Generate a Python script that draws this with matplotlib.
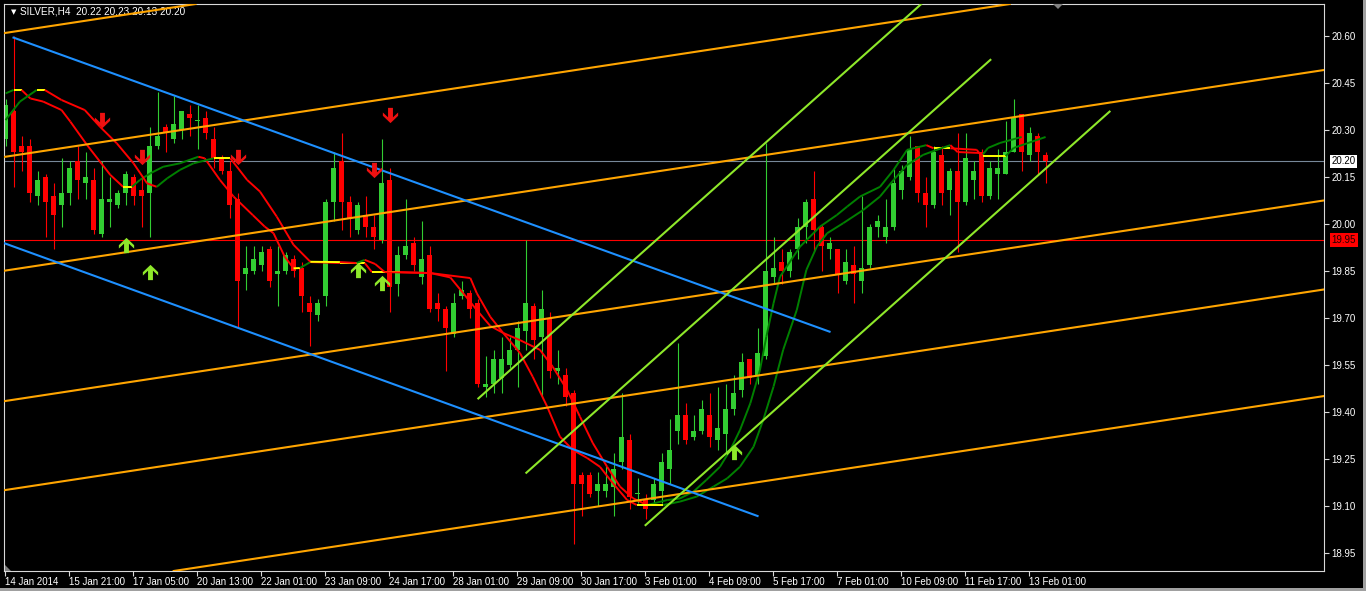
import numpy as np
import matplotlib
matplotlib.use('Agg')
import matplotlib.pyplot as plt
from matplotlib.collections import LineCollection
from matplotlib.path import Path
from matplotlib.patches import Polygon, Rectangle

plt.rcParams['font.family'] = ['Liberation Sans', 'DejaVu Sans']

# ---- candles (SILVER, H4), one row per bar: open, high, low, close
ohlc = [
    (20.27, 20.40, 20.25, 20.38), (20.36, 20.60, 20.12, 20.23), (20.25, 20.28, 20.17, 20.23),
    (20.25, 20.27, 20.07, 20.10), (20.09, 20.17, 20.06, 20.14), (20.15, 20.16, 19.96, 20.07),
    (20.09, 20.13, 19.92, 20.03), (20.06, 20.21, 19.99, 20.10), (20.10, 20.20, 20.06, 20.18),
    (20.20, 20.25, 20.08, 20.14), (20.13, 20.23, 20.08, 20.15), (20.14, 20.18, 19.97, 19.98),
    (19.97, 20.20, 19.96, 20.08), (20.07, 20.15, 19.99, 20.08), (20.06, 20.11, 20.05, 20.10),
    (20.10, 20.17, 20.06, 20.16), (20.15, 20.16, 20.06, 20.09), (20.11, 20.15, 19.99, 20.09),
    (20.10, 20.31, 19.96, 20.25), (20.25, 20.42, 20.24, 20.28), (20.31, 20.32, 20.23, 20.29),
    (20.27, 20.41, 20.26, 20.32), (20.30, 20.36, 20.27, 20.36), (20.35, 20.38, 20.28, 20.34),
    (20.33, 20.38, 20.24, 20.33), (20.34, 20.36, 20.27, 20.29), (20.27, 20.31, 20.18, 20.21),
    (20.21, 20.22, 20.16, 20.17), (20.17, 20.20, 20.02, 20.06), (20.08, 20.10, 19.67, 19.82),
    (19.84, 19.93, 19.79, 19.86), (19.85, 19.93, 19.84, 19.89), (19.87, 19.93, 19.85, 19.91),
    (19.92, 19.93, 19.80, 19.82), (19.84, 19.93, 19.74, 19.85), (19.85, 19.91, 19.84, 19.90),
    (19.89, 19.90, 19.83, 19.85), (19.86, 19.88, 19.72, 19.77), (19.75, 19.77, 19.61, 19.72),
    (19.71, 19.76, 19.69, 19.75), (19.77, 20.08, 19.74, 20.07), (20.07, 20.23, 20.01, 20.18),
    (20.20, 20.29, 19.98, 20.07), (20.07, 20.09, 19.96, 20.02), (19.98, 20.07, 19.97, 20.06),
    (20.03, 20.09, 19.96, 19.99), (19.99, 20.03, 19.92, 19.96), (19.95, 20.27, 19.94, 20.13),
    (20.14, 20.18, 19.72, 19.80), (19.81, 19.93, 19.77, 19.90), (19.90, 20.08, 19.89, 19.93),
    (19.94, 19.96, 19.85, 19.87), (19.83, 20.01, 19.81, 19.89), (19.90, 19.93, 19.72, 19.73),
    (19.75, 19.78, 19.69, 19.73), (19.73, 19.74, 19.53, 19.67), (19.65, 19.78, 19.64, 19.75),
    (19.77, 19.82, 19.76, 19.79), (19.78, 19.79, 19.70, 19.73), (19.75, 19.76, 19.48, 19.49),
    (19.48, 19.58, 19.45, 19.49), (19.49, 19.60, 19.46, 19.57), (19.51, 19.64, 19.46, 19.57),
    (19.55, 19.64, 19.54, 19.60), (19.60, 19.69, 19.48, 19.67), (19.66, 19.95, 19.60, 19.75),
    (19.74, 19.75, 19.57, 19.63), (19.64, 19.79, 19.45, 19.73), (19.70, 19.72, 19.51, 19.53),
    (19.53, 19.60, 19.49, 19.54), (19.52, 19.54, 19.42, 19.45), (19.46, 19.47, 18.98, 19.17),
    (19.20, 19.21, 19.07, 19.17), (19.20, 19.21, 19.13, 19.14), (19.15, 19.21, 19.10, 19.17),
    (19.15, 19.23, 19.13, 19.17), (19.16, 19.27, 19.07, 19.22), (19.24, 19.46, 19.22, 19.32),
    (19.31, 19.33, 19.09, 19.13), (19.14, 19.19, 19.11, 19.14), (19.12, 19.14, 19.06, 19.09),
    (19.12, 19.19, 19.11, 19.17), (19.15, 19.27, 19.11, 19.24), (19.22, 19.38, 19.17, 19.28),
    (19.34, 19.62, 19.30, 19.39), (19.39, 19.43, 19.30, 19.31), (19.32, 19.39, 19.31, 19.34),
    (19.34, 19.44, 19.33, 19.41), (19.39, 19.46, 19.29, 19.32), (19.31, 19.48, 19.28, 19.35),
    (19.33, 19.49, 19.27, 19.41), (19.41, 19.52, 19.39, 19.46), (19.47, 19.59, 19.45, 19.56),
    (19.57, 19.57, 19.49, 19.51), (19.52, 19.67, 19.49, 19.59), (19.58, 20.26, 19.57, 19.85),
    (19.83, 19.96, 19.81, 19.86), (19.88, 19.92, 19.81, 19.85), (19.85, 19.92, 19.83, 19.91),
    (19.92, 20.02, 19.89, 19.99), (19.99, 20.08, 19.94, 20.07), (20.08, 20.17, 19.91, 19.98),
    (19.99, 20.00, 19.85, 19.93), (19.92, 19.96, 19.89, 19.94), (19.92, 19.92, 19.78, 19.84),
    (19.82, 19.92, 19.81, 19.88), (19.87, 19.93, 19.75, 19.84), (19.82, 20.09, 19.78, 19.86),
    (19.87, 20.00, 19.86, 19.99), (19.99, 20.03, 19.96, 20.01), (19.96, 20.08, 19.94, 19.99),
    (19.99, 20.18, 19.98, 20.13), (20.11, 20.19, 20.08, 20.17), (20.15, 20.28, 20.14, 20.24),
    (20.25, 20.25, 20.07, 20.10), (20.10, 20.15, 19.99, 20.06), (20.06, 20.25, 20.05, 20.23),
    (20.22, 20.25, 20.06, 20.10), (20.11, 20.18, 20.03, 20.17), (20.17, 20.29, 19.91, 20.07),
    (20.07, 20.29, 20.06, 20.21), (20.14, 20.20, 20.08, 20.17), (20.23, 20.24, 20.07, 20.09),
    (20.09, 20.20, 20.08, 20.18), (20.16, 20.24, 20.08, 20.18), (20.16, 20.33, 20.16, 20.23),
    (20.23, 20.40, 20.23, 20.34), (20.35, 20.35, 20.17, 20.23), (20.22, 20.31, 20.20, 20.29),
    (20.28, 20.29, 20.16, 20.23), (20.22, 20.23, 20.13, 20.20),
]

symbol = 'SILVER,H4'
date_labels = ['14 Jan 2014', '15 Jan 21:00', '17 Jan 05:00', '20 Jan 13:00', '22 Jan 01:00',
               '23 Jan 09:00', '24 Jan 17:00', '28 Jan 01:00', '29 Jan 09:00', '30 Jan 17:00',
               '3 Feb 01:00', '4 Feb 09:00', '5 Feb 17:00', '7 Feb 01:00', '10 Feb 09:00',
               '11 Feb 17:00', '13 Feb 01:00']
price_labels = ['18.95', '19.10', '19.25', '19.40', '19.55', '19.70', '19.85',
                '20.00', '20.15', '20.30', '20.45', '20.60']

# ---- two moving-average style lines (bar index, price)
fast_bar = [0, 1.0, 2.0, 3.1, 4.7, 7.0, 8.1, 10.2, 13.1, 14.7, 15.8, 16.8, 18.1, 19.7, 21.8,
            24.1, 24.9, 26.8, 28.5, 30.9, 32.4, 33.5, 34.9, 36.0, 36.8, 38.1, 41.8, 44.9, 45.8,
            49.3, 53.1, 55.6, 57.2, 58.9, 60.6, 62.2, 64.3, 66.8, 68.4, 70.2, 71.8, 73.4, 75.2,
            76.8, 78.4, 80.2, 82.7, 84.3, 86.0, 87.6, 89.3, 90.6, 91.8, 93.1, 94.3, 95.1, 96.0,
            96.8, 99.3, 101.8, 103.9, 105.2, 106.8, 109.3, 111.0, 112.7, 115.1, 116.0, 118.1,
            121.4, 122.0, 122.8, 124.3, 127.0]
fast_val = [20.417, 20.428, 20.428, 20.401, 20.391, 20.364, 20.327, 20.252, 20.157, 20.119,
            20.119, 20.141, 20.162, 20.183, 20.194, 20.215, 20.210, 20.141, 20.088, 20.029,
            19.992, 19.971, 19.896, 19.859, 19.860, 19.879, 19.876, 19.876, 19.847, 19.847,
            19.844, 19.830, 19.780, 19.726, 19.675, 19.653, 19.630, 19.599, 19.545, 19.471,
            19.386, 19.302, 19.226, 19.163, 19.126, 19.104, 19.120, 19.125, 19.147, 19.184,
            19.226, 19.280, 19.343, 19.429, 19.535, 19.641, 19.748, 19.832, 19.928, 19.992,
            20.029, 20.056, 20.088, 20.119, 20.173, 20.237, 20.252, 20.242, 20.242, 20.237,
            20.217, 20.243, 20.259, 20.278]
slow_bar = [0, 1.8, 3.9, 4.9, 7.0, 9.9, 11.8, 13.9, 16.0, 17.7, 18.9, 20.2, 21.8, 23.5, 26.0,
            28.1, 30.2, 31.8, 33.9, 36.0, 38.1, 41.8, 43.9, 44.9, 46.2, 47.4, 53.1, 58.1, 58.9,
            60.6, 62.2, 64.3, 65.9, 67.7, 69.3, 70.9, 72.7, 74.3, 75.9, 77.7, 78.9, 82.2, 84.3,
            86.4, 88.5, 90.2, 91.8, 93.5, 94.7, 96.0, 97.2, 98.9, 100.1, 101.4, 102.7, 104.7,
            107.2, 109.3, 111.0, 112.7, 114.7, 116.4, 118.1, 119.0, 121.8, 122.2, 125.0, 126.0,
            130.0]
slow_val = [20.332, 20.391, 20.428, 20.428, 20.396, 20.364, 20.311, 20.258, 20.194, 20.130,
            20.119, 20.146, 20.173, 20.194, 20.210, 20.210, 20.141, 20.104, 20.024, 19.934,
            19.880, 19.879, 19.876, 19.886, 19.873, 19.847, 19.844, 19.828, 19.780, 19.704,
            19.653, 19.589, 19.513, 19.418, 19.322, 19.280, 19.254, 19.226, 19.174, 19.120,
            19.104, 19.104, 19.115, 19.131, 19.163, 19.189, 19.226, 19.290, 19.375, 19.482,
            19.599, 19.726, 19.854, 19.928, 19.971, 20.003, 20.045, 20.088, 20.141, 20.189,
            20.221, 20.237, 20.252, 20.230, 20.227, 20.217, 20.217, 20.243, 20.278]

# ---- signal arrows
down_bar = [12, 17, 29, 46, 48]
down_val = [20.332, 20.215, 20.215, 20.173, 20.348]
up_bar = [15, 18, 44, 47, 91]
up_val = [19.934, 19.848, 19.854, 19.813, 19.274]

# ---- drawn objects: (bar, price) -> (bar, price)
orange_lines = [((0, 20.610), (160, 21.231)), ((0, 20.215), (160, 20.836)),
                ((0, 19.852), (160, 20.473)), ((0, 19.436), (160, 20.057)),
                ((0, 19.152), (160, 19.773)), ((0, 18.812), (160, 19.433))]
blue_lines = [((1.0, 20.595), (103.0, 19.657)), ((-1.0, 19.947), (94.0, 19.069))]
green_lines = [((59.1, 19.444), (117.1, 20.762)), ((65.1, 19.207), (123.1, 20.524)),
               ((80.0, 19.040), (138.0, 20.359))]
bid_level = 20.20
alert_level = 19.95

# ---------------------------------------------------------------
W, H = 1366, 591
fig = plt.figure(figsize=(W / 100, H / 100), dpi=100, facecolor='black')
ax = fig.add_axes([4 / W, 20 / H, 1320 / W, 567 / H])
ax.set_facecolor('black')
for s in ax.spines.values():
    s.set_color('#d8d8d8')
    s.set_linewidth(0.8)

ax.set_xlim(-0.19, 164.8)
ax.set_ylim(18.8936, 20.7022)

data = np.array(ohlc)
o, h, l, c = data.T
bars = np.arange(len(data))
bull = c >= o
col = np.where(bull, '#32cd32', '#ff0000')

ax.vlines(bars, l, h, colors=col, linewidth=0.8, zorder=2)
body = np.maximum(np.abs(c - o), 0.0035)
ax.bar(bars, body, bottom=np.minimum(o, c), width=0.62, color=col,
       linewidth=0, zorder=2)

# horizontal levels
ax.axhline(bid_level, color='#778899', lw=0.8, zorder=1)
ax.axhline(alert_level, color='#ff0000', lw=0.8, zorder=1)


def ma_line(xs, ys):
    pts = np.column_stack([xs, ys])
    segs = np.stack([pts[:-1], pts[1:]], axis=1)
    slope = np.diff(ys) / np.diff(xs)
    cols = ['#008000' if s > 0.003 else '#ff0000' if s < -0.0005 else '#ffff00' for s in slope]
    ax.add_collection(LineCollection(segs, colors=cols, linewidths=1.4, zorder=3))


ma_line(fast_bar, fast_val)
ma_line(slow_bar, slow_val)

# trend objects
for p1, p2 in orange_lines:
    ax.axline(p1, p2, color='#ffa500', lw=1.5, zorder=4)
for p1, p2 in blue_lines:
    ax.plot([p1[0], p2[0]], [p1[1], p2[1]], color='#1e90ff', lw=1.5, zorder=4)
for p1, p2 in green_lines:
    ax.plot([p1[0], p2[0]], [p1[1], p2[1]], color='#8ee82a', lw=1.5, zorder=4)

# arrows
up_path = Path([(0, 0.5), (0.5, 0.02), (0.5, -0.2), (0.16, 0.12), (0.16, -0.5),
                (-0.16, -0.5), (-0.16, 0.12), (-0.5, -0.2), (-0.5, 0.02), (0, 0.5)])
down_path = Path(up_path.vertices * [1, -1])
ax.plot(down_bar, down_val, ls='none', marker=down_path, ms=11, color='#ee1111',
        mec='none', zorder=5)
ax.plot(up_bar, up_val, ls='none', marker=up_path, ms=11, color='#8ee82a',
        mec='none', zorder=5)

# axes ticks
ax.yaxis.tick_right()
ax.set_yticks([float(p) for p in price_labels])
ax.set_yticklabels(price_labels)
ax.set_xticks(np.arange(len(date_labels)) * 8 - 0.06)
ax.set_xticklabels(date_labels)
for lbl in ax.get_xticklabels():
    lbl.set_ha('left')
ax.tick_params(axis='both', colors='#d8d8d8', labelcolor='white', labelsize=7,
               length=3.5, width=0.8, direction='out', pad=2)
ax.tick_params(axis='x', pad=1)

# price tags on the right scale
ax.text(165.75, bid_level, f'{bid_level:.2f}', color='black', fontsize=7, va='center',
        ha='left', clip_on=False, zorder=6,
        bbox=dict(boxstyle='square,pad=0.18', fc='white', ec='none'))
ax.text(165.75, alert_level, f'{alert_level:.2f}', color='#200000', fontsize=7, va='center',
        ha='left', clip_on=False, zorder=6,
        bbox=dict(boxstyle='square,pad=0.18', fc='#ff0000', ec='none'))

# header
last = ohlc[-1]
ax.text(0.0052, 0.9855, '\u25bc', transform=ax.transAxes, color='white', fontsize=5,
        va='center', ha='left', family=['DejaVu Sans'])
ax.text(0.0122, 0.986, f'{symbol}  ' + ' '.join(f'{v:.2f}' for v in last),
        transform=ax.transAxes, color='white', fontsize=7.2, va='center', ha='left')

# small chart markers and window border
fig.add_artist(Polygon([(1053, 587), (1063, 587), (1058, 582)], closed=True,
                       transform=None, fc='#808080', ec='none'))
fig.add_artist(Polygon([(5, 26), (5, 20), (11, 20)], closed=True,
                       transform=None, fc='#808080', ec='none'))
fig.add_artist(Rectangle((1363, 0), 3, H, transform=None, fc='#a0a0a0', ec='none'))
fig.add_artist(Rectangle((0, 0), W, 3, transform=None, fc='#a0a0a0', ec='none'))

fig.savefig('out.png', dpi=100, facecolor='black')
